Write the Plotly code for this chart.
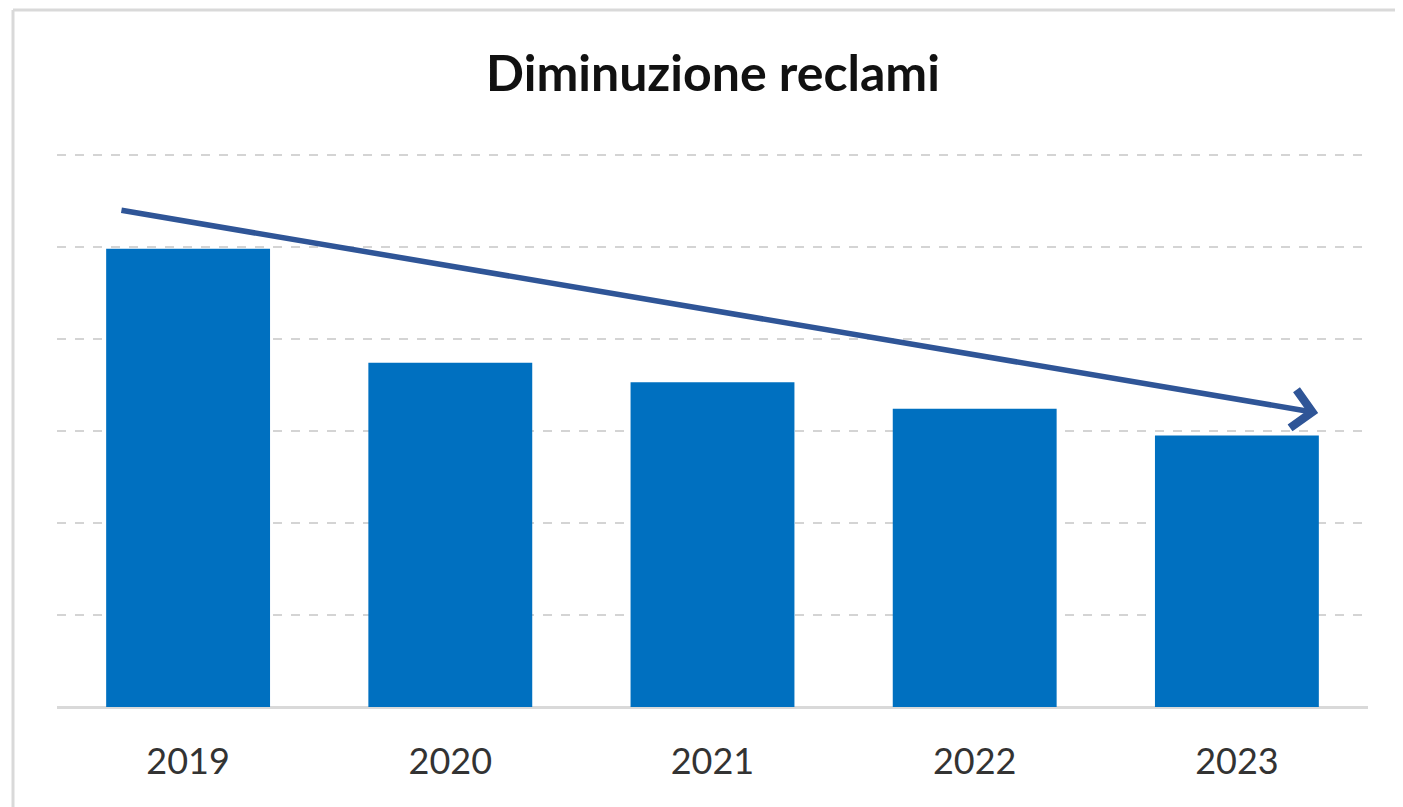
import plotly.graph_objects as go

years = ["2019", "2020", "2021", "2022", "2023"]
reclami = [4.98, 3.74, 3.53, 3.24, 2.95]
grid_ticks = [0, 1, 2, 3, 4, 5, 6]

fig = go.Figure()
fig.add_trace(go.Bar(x=years, y=reclami, marker=dict(color="#0070C0", line=dict(width=0)),
                     hoverinfo="x+y"))

# page body adds an 8px offset; margins compensate so the plot area sits at x 57..1368, y 153..707
fig.update_layout(
    width=1403, height=807,
    margin=dict(l=49, r=43, t=145, b=108),
    paper_bgcolor="white", plot_bgcolor="white",
    bargap=0.375,
    showlegend=False,
    title=dict(text="<b>Diminuzione reclami</b>", x=705 / 1403, xanchor="center",
               y=1 - 65 / 807, yanchor="middle", yref="container",
               font=dict(family="Lato", size=50, color="#111111")),
    font=dict(family="Lato", color="#404040"),
)
fig.update_xaxes(showgrid=False, showline=False, ticks="outside", ticklen=23,
                 tickcolor="rgba(0,0,0,0)", tickfont=dict(size=36, color="#333333"),
                 fixedrange=True)
fig.update_yaxes(range=[0, 6.02], tickvals=grid_ticks, showticklabels=False,
                 showgrid=True, gridcolor="#d4d4d4", gridwidth=2, griddash="dash",
                 zeroline=True, zerolinecolor="#d9d9d9", zerolinewidth=3,
                 fixedrange=True)

# trend arrow
fig.add_annotation(x=4.31, y=3.195, ax=-0.26, ay=5.40, xref="x", yref="y",
                   axref="x", ayref="y", showarrow=True, arrowhead=4,
                   arrowsize=1.35, arrowwidth=5.5, arrowcolor="#2F5597", text="")

# outer frame (top and left edges)
fx = (13 - 57) / 1311
fy = (707 - 10) / 554
fig.add_shape(type="line", xref="paper", yref="paper",
              x0=fx, x1=1.05, y0=fy, y1=fy,
              line=dict(color="#d9d9d9", width=3))
fig.add_shape(type="line", xref="paper", yref="paper",
              x0=fx, x1=fx, y0=fy, y1=-0.3,
              line=dict(color="#d9d9d9", width=3))

fig.write_html("out.html")
